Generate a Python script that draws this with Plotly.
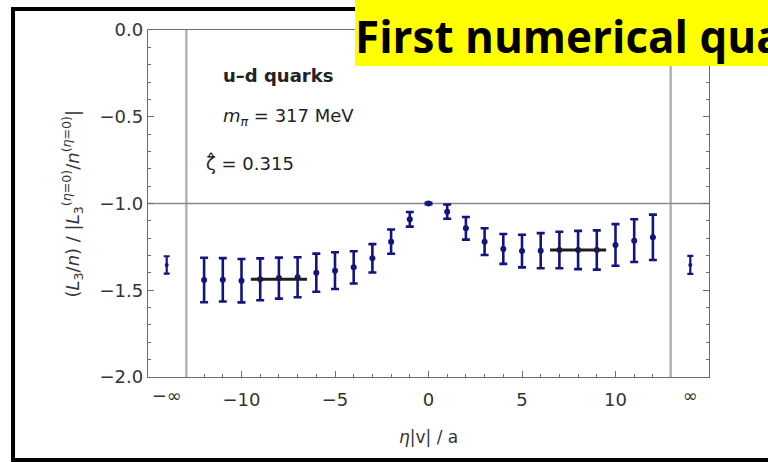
import plotly.graph_objects as go

# ---- data ----
eta = [-12, -11, -10, -9, -8, -7, -6, -5, -4, -3, -2, -1, 0, 1, 2, 3, 4, 5, 6, 7, 8, 9, 10, 11, 12]
ratio = [-1.441, -1.440, -1.445, -1.437, -1.430, -1.425, -1.399, -1.387, -1.368, -1.316, -1.220, -1.091,
         -1.000, -1.047, -1.143, -1.220, -1.262, -1.274, -1.272, -1.268, -1.268, -1.268, -1.239, -1.214, -1.195]
ratio_err = [0.128, 0.125, 0.125, 0.121, 0.118, 0.115, 0.110, 0.106, 0.093, 0.082, 0.070, 0.042,
             0.004, 0.041, 0.065, 0.077, 0.086, 0.094, 0.101, 0.105, 0.110, 0.113, 0.120, 0.123, 0.131]

inf_pos = [-14, 14]
inf_labels = ["\u2212\u221e", "\u221e"]
inf_ratio = [-1.354, -1.354]
inf_err = [0.050, 0.052]

fit_left_x = [-9.5, -6.5]
fit_left_y = [-1.437, -1.437]
fit_right_x = [6.5, 9.5]
fit_right_y = [-1.268, -1.268]

separator_x = [-12.95, 12.95]
reference_y = -1.0

x_major_ticks = [-10, -5, 0, 5, 10]
x_minor_ticks = [v for v in range(-12, 13) if v not in x_major_ticks]
y_major_ticks = [0.0, -0.5, -1.0, -1.5, -2.0]

NAVY = "#14147e"
FRAME = "#6e6e6e"
FONT = "DejaVu Sans"

fig = go.Figure()

for xv in separator_x:
    fig.add_vline(x=xv, line=dict(color="#b4b4b4", width=2.5), layer="below")
fig.add_hline(y=reference_y, line=dict(color="#8a8a8a", width=1.5), layer="below")

fig.add_trace(go.Scatter(
    x=eta, y=ratio, mode="markers",
    marker=dict(color=NAVY, size=6),
    error_y=dict(type="data", array=ratio_err, color=NAVY, thickness=2.6, width=4),
    showlegend=False))

fig.add_trace(go.Scatter(
    x=inf_pos, y=inf_ratio, mode="markers", xaxis="x2",
    marker=dict(color=NAVY, size=4),
    error_y=dict(type="data", array=inf_err, color=NAVY, thickness=2.2, width=3),
    showlegend=False))

for fx, fy in [(fit_left_x, fit_left_y), (fit_right_x, fit_right_y)]:
    fig.add_trace(go.Scatter(x=fx, y=fy, mode="lines",
                             line=dict(color="#1e1e1e", width=3), showlegend=False))

# annotations inside plot
fig.add_annotation(x=0.13, y=0.870, xref="paper", yref="paper", xanchor="left", yanchor="middle",
                   text="<b>u\u2013d quarks</b>", showarrow=False,
                   font=dict(family=FONT, size=18, color="#222"))
fig.add_annotation(x=0.13, y=0.749, xref="paper", yref="paper", xanchor="left", yanchor="middle",
                   text="<i>m</i><sub><i>\u03c0</i></sub> = 317 MeV", showarrow=False,
                   font=dict(family=FONT, size=18, color="#222"))
fig.add_annotation(x=0.1, y=0.617, xref="paper", yref="paper", xanchor="left", yanchor="middle",
                   text="\u03b6\u0302 = 0.315", showarrow=False,
                   font=dict(family=FONT, size=18, color="#222"))

# axis titles
fig.add_annotation(x=-0.1355, y=0.5, xref="paper", yref="paper", textangle=-90,
                   xanchor="center", yanchor="middle", showarrow=False,
                   text="(<i>L</i><sub>3</sub>/<i>n</i>) / |<i>L</i><sub>3</sub><sup>(<i>\u03b7</i>=0)</sup>/<i>n</i><sup>(<i>\u03b7</i>=0)</sup>|",
                   font=dict(family=FONT, size=18, color="#333"))
fig.add_annotation(x=0.5, y=-0.173, xref="paper", yref="paper", xanchor="center", yanchor="middle",
                   showarrow=False, text="<i>\u03b7</i>|v| / a",
                   font=dict(family=FONT, size=17, color="#333"))

# outer black border and yellow title box
fig.add_shape(type="rect", xref="paper", yref="paper", x0=-0.2406, x1=1.3, y0=-0.239, y1=1.0605,
              line=dict(color="black", width=4), fillcolor="rgba(0,0,0,0)", layer="above")
fig.add_shape(type="rect", xref="paper", yref="paper", x0=0.369, x1=1.3, y0=0.896, y1=1.2,
              line=dict(width=0), fillcolor="#ffff00", layer="above")
fig.add_annotation(x=0.365, y=0.982, xref="paper", yref="paper", xanchor="left", yanchor="middle",
                   showarrow=False, text="<b>First numerical qua</b>",
                   font=dict(family="Open Sans", size=44, color="black"))

axis_common = dict(showgrid=False, zeroline=False, showline=True, linecolor=FRAME, linewidth=1.3,
                   ticks="inside", tickcolor=FRAME, tickwidth=1.2, ticklen=6,
                   tickfont=dict(family=FONT, size=18, color="#333"))

fig.update_layout(
    width=768, height=462,
    margin=dict(l=148, r=59, t=30, b=85),
    paper_bgcolor="white", plot_bgcolor="white",
    xaxis=dict(range=[-15, 15], tickmode="array", tickvals=x_major_ticks, mirror=True,
               ticklabelstandoff=6,
               minor=dict(tickmode="array", tickvals=x_minor_ticks, ticks="inside", ticklen=3,
                          tickcolor=FRAME, tickwidth=1.1),
               **axis_common),
    xaxis2=dict(range=[-15, 15], overlaying="x", anchor="y", side="bottom", showgrid=False,
                zeroline=False, showline=False, ticks="", tickmode="array", tickvals=inf_pos,
                ticktext=inf_labels, ticklabelstandoff=6,
                tickfont=dict(family=FONT, size=18, color="#333")),
    yaxis=dict(range=[-2.0, 0.0], tickmode="array", tickvals=y_major_ticks, tickformat=".1f",
               mirror="ticks",
               minor=dict(dtick=0.1, ticks="inside", ticklen=3, tickcolor=FRAME, tickwidth=1.1),
               **axis_common),
)

fig.write_html("out.html", config={"displayModeBar": False},
               post_script="document.body.style.margin='0';")
